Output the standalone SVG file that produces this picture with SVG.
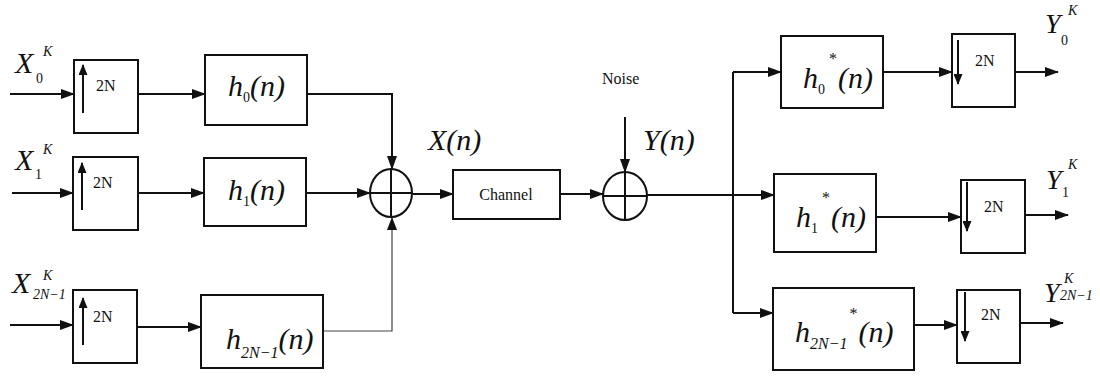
<svg xmlns="http://www.w3.org/2000/svg" width="1100" height="376" viewBox="0 0 1100 376">
<defs>
<marker id="ah" markerWidth="14" markerHeight="10" refX="13" refY="5" orient="auto" markerUnits="userSpaceOnUse">
<path d="M0,0 L14,5 L0,10 Z" fill="#111"/>
</marker>
<marker id="ahs" markerWidth="11" markerHeight="9" refX="10" refY="4.5" orient="auto" markerUnits="userSpaceOnUse">
<path d="M0,0 L11,4.5 L0,9 Z" fill="#111"/>
</marker>
<style>
.box{fill:#fff;stroke:#111;stroke-width:2}
.ln{fill:none;stroke:#111;stroke-width:2}
.thin{fill:none;stroke:#444;stroke-width:1.2}
.m{font-family:'Liberation Serif','DejaVu Serif',serif;font-style:italic;fill:#111}
.r{font-family:'Liberation Serif','DejaVu Serif',serif;font-style:normal;fill:#111}
</style>
</defs>
<rect width="1100" height="376" fill="#fff"/>

<g id="connectors">
<line class="ln" x1="10" y1="94" x2="74" y2="94" marker-end="url(#ah)"/>
<line class="ln" x1="12" y1="193" x2="73" y2="193" marker-end="url(#ah)"/>
<line class="ln" x1="10" y1="325" x2="73" y2="325" marker-end="url(#ah)"/>
<line class="ln" x1="138" y1="94" x2="205" y2="94" marker-end="url(#ah)"/>
<line class="ln" x1="138" y1="193" x2="204" y2="193" marker-end="url(#ah)"/>
<line class="ln" x1="137" y1="327" x2="201" y2="327" marker-end="url(#ah)"/>
<polyline class="ln" points="307,94 392,94 392,169" marker-end="url(#ah)"/>
<line class="ln" x1="306" y1="193" x2="370" y2="193" marker-end="url(#ah)"/>
<polyline class="thin" points="323,331 392,331 392,218"/>
<path d="M387,230 L392,217 L397,230 Z" fill="#111"/>
<line class="ln" x1="413" y1="194" x2="453" y2="194" marker-end="url(#ah)"/>
<line class="ln" x1="560" y1="194" x2="603" y2="194" marker-end="url(#ah)"/>
<line class="ln" x1="625" y1="117" x2="625" y2="172" marker-end="url(#ah)"/>
<line class="ln" x1="647" y1="195" x2="774" y2="195" marker-end="url(#ah)"/>
<line class="ln" x1="733" y1="72" x2="733" y2="313"/>
<line class="ln" x1="733" y1="72" x2="781" y2="72" marker-end="url(#ah)"/>
<line class="ln" x1="733" y1="313" x2="773" y2="313" marker-end="url(#ah)"/>
<line class="ln" x1="883" y1="72" x2="952" y2="72" marker-end="url(#ah)"/>
<line class="ln" x1="876" y1="217" x2="961" y2="217" marker-end="url(#ah)"/>
<line class="ln" x1="914" y1="325" x2="957" y2="325" marker-end="url(#ah)"/>
<line class="ln" x1="1015" y1="72" x2="1058" y2="72" marker-end="url(#ah)"/>
<line class="ln" x1="1025" y1="215" x2="1068" y2="215" marker-end="url(#ah)"/>
<line class="ln" x1="1020" y1="323" x2="1063" y2="323" marker-end="url(#ah)"/>
</g>

<g id="in0">
<text class="m" x="15" y="73" font-size="30">X</text>
<text class="r" x="36" y="83" font-size="14">0</text>
<text class="m" x="43" y="56" font-size="14">K</text>
</g>
<g id="in1">
<text class="m" x="15" y="170" font-size="30">X</text>
<text class="r" x="35" y="179" font-size="14">1</text>
<text class="m" x="43" y="154" font-size="14">K</text>
</g>
<g id="in2">
<text class="m" x="12" y="293" font-size="30">X</text>
<text class="m" x="33" y="299" font-size="14">2N−1</text>
<text class="m" x="43" y="280" font-size="14">K</text>
</g>

<g id="up0">
<rect class="box" x="74" y="60" width="64" height="73"/>
<line class="ln" x1="83" y1="113" x2="83" y2="65" marker-end="url(#ahs)"/>
<text class="r" x="96" y="91" font-size="16">2N</text>
</g>
<g id="up1">
<rect class="box" x="73" y="157" width="65" height="73"/>
<line class="ln" x1="82" y1="210" x2="82" y2="163" marker-end="url(#ahs)"/>
<text class="r" x="93" y="188" font-size="16">2N</text>
</g>
<g id="up2">
<rect class="box" x="73" y="290" width="64" height="73"/>
<line class="ln" x1="83" y1="345" x2="83" y2="298" marker-end="url(#ahs)"/>
<text class="r" x="93" y="322" font-size="16">2N</text>
</g>

<g id="h0">
<rect class="box" x="205" y="55" width="102" height="70"/>
<text class="m" x="228" y="96" font-size="30">h<tspan class="r" font-size="14" dy="6">0</tspan><tspan dy="-6">(n)</tspan></text>
</g>
<g id="h1">
<rect class="box" x="204" y="158" width="102" height="68"/>
<text class="m" x="228" y="200" font-size="30">h<tspan class="r" font-size="14" dy="6">1</tspan><tspan dy="-6">(n)</tspan></text>
</g>
<g id="h2">
<rect class="box" x="201" y="295" width="122" height="73"/>
<text class="m" x="226" y="349" font-size="30">h<tspan font-size="16" dy="9">2N−1</tspan><tspan dy="-9">(n)</tspan></text>
</g>

<g id="sum1">
<ellipse class="ln" cx="391" cy="193" rx="21" ry="24"/>
<line class="ln" x1="370" y1="193" x2="412" y2="193"/>
<line class="ln" x1="391" y1="169" x2="391" y2="217"/>
</g>
<g id="xn">
<text class="m" x="428" y="150" font-size="30">X(n)</text>
</g>

<g id="channel">
<rect class="box" x="453" y="170" width="107" height="49"/>
<text class="r" x="506" y="200" font-size="16" text-anchor="middle">Channel</text>
</g>

<g id="noise">
<text class="r" x="602" y="84" font-size="16">Noise</text>
</g>
<g id="sum2">
<ellipse class="ln" cx="625" cy="196" rx="22" ry="24"/>
<line class="ln" x1="603" y1="196" x2="647" y2="196"/>
<line class="ln" x1="625" y1="172" x2="625" y2="220"/>
</g>
<g id="yn">
<text class="m" x="643" y="150" font-size="30">Y(n)</text>
</g>

<g id="g0">
<rect class="box" x="781" y="36" width="102" height="72"/>
<text class="m" x="803" y="88" font-size="30">h<tspan class="r" font-size="14" dy="6">0</tspan><tspan class="r" font-size="16" dx="4" dy="-30">*</tspan><tspan dx="1" dy="24">(n)</tspan></text>
</g>
<g id="g1">
<rect class="box" x="774" y="174" width="102" height="78"/>
<text class="m" x="796" y="227" font-size="30">h<tspan class="r" font-size="14" dy="6">1</tspan><tspan class="r" font-size="16" dx="4" dy="-30">*</tspan><tspan dx="1" dy="24">(n)</tspan></text>
</g>
<g id="g2">
<rect class="box" x="773" y="288" width="141" height="82"/>
<text class="m" x="795" y="342" font-size="30">h<tspan font-size="16" dy="7">2N−1</tspan><tspan class="r" font-size="16" dx="2" dy="-30">*</tspan><tspan dx="1" dy="23">(n)</tspan></text>
</g>

<g id="dn0">
<rect class="box" x="952" y="34" width="63" height="73"/>
<line class="ln" x1="958" y1="40" x2="958" y2="84" marker-end="url(#ahs)"/>
<text class="r" x="975" y="66" font-size="16">2N</text>
</g>
<g id="dn1">
<rect class="box" x="961" y="180" width="64" height="73"/>
<line class="ln" x1="967" y1="182" x2="967" y2="231" marker-end="url(#ahs)"/>
<text class="r" x="984" y="212" font-size="16">2N</text>
</g>
<g id="dn2">
<rect class="box" x="957" y="290" width="63" height="73"/>
<line class="ln" x1="965" y1="292" x2="965" y2="341" marker-end="url(#ahs)"/>
<text class="r" x="981" y="320" font-size="16">2N</text>
</g>

<g id="out0">
<text class="m" x="1045" y="33" font-size="28">Y</text>
<text class="r" x="1061" y="45" font-size="14">0</text>
<text class="m" x="1068" y="15" font-size="14">K</text>
</g>
<g id="out1">
<text class="m" x="1046" y="189" font-size="28">Y</text>
<text class="r" x="1062" y="197" font-size="14">1</text>
<text class="m" x="1068" y="169" font-size="14">K</text>
</g>
<g id="out2">
<text class="m" x="1044" y="302" font-size="28">Y</text>
<text class="m" x="1060" y="300" font-size="14">2N−1</text>
<text class="m" x="1064" y="283" font-size="14">K</text>
</g>
</svg>
